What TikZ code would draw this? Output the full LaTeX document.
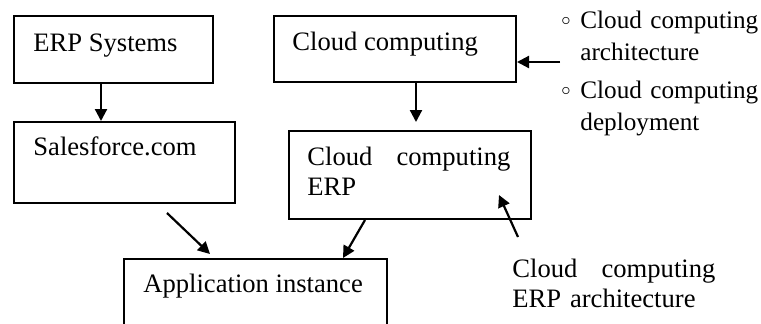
\documentclass[tikz,border=0pt]{standalone}
\usepackage{fontspec}
\setmainfont{Liberation Serif}
\usetikzlibrary{arrows.meta,calc}
\begin{document}
\begin{tikzpicture}[x=0.5pt,y=-0.5pt,
  box/.style={draw,line width=1pt,anchor=north west,inner sep=0pt},
  txt/.style={anchor=base west,inner sep=0pt,font=\fontsize{13.3}{15}\selectfont},
  jtxt/.style={anchor=base west,inner sep=0pt,align=left,text width=101.5pt,font=\fontsize{13.3}{15}\selectfont},
  btxt/.style={anchor=base west,inner sep=0pt,align=left,text width=90pt,font=\fontsize{12.6}{16}\selectfont},
  bmark/.style={inner sep=0pt,font=\fontsize{9}{9}\selectfont},
  arr/.style={line width=1.1pt,-{Triangle[length=6pt,width=6pt]}}]
\useasboundingbox (0,0) rectangle (761,323);
\clip (0,0) rectangle (761,323);
% boxes
\node[box,minimum width=99.5pt,minimum height=33.5pt] (erp) at (13,15) {};
\node[box,minimum width=121pt,minimum height=33pt] (cc) at (273,15) {};
\node[box,minimum width=110.5pt,minimum height=40.5pt] (sf) at (13,121) {};
\node[box,minimum width=121pt,minimum height=44pt] (ce) at (288,130) {};
\node[box,minimum width=131.5pt,minimum height=50pt] (app) at (123,258) {};
% box texts
\node[txt] (erpt) at (33,51) {ERP Systems};
\node[txt] (cct) at (292,50) {Cloud computing};
\node[txt] (sft) at (33,155) {Salesforce.com};
\node[jtxt] (cet) at (307,165) {Cloud\hfill computing\\ERP};
\node[txt] (appt) at (143,292) {Application instance};
% bullet list
\node[bmark] (m1) at (566,21) {$\circ$};
\node[btxt] (b1) at (580,28) {Cloud computing\\architecture};
\node[bmark] (m2) at (566,91) {$\circ$};
\node[btxt] (b2) at (580,98) {Cloud computing\\deployment};
% label
\node[jtxt] (lab) at (512,277) {Cloud\hfill computing\\ERP architecture};
% arrows
\draw[arr] ($(erp.south west)+(88,0)$) -- ($(sf.north west)+(88,0)$);
\draw[arr] ($(cc.south west)+(143,0)$) -- ($(ce.north west)+(128,-8)$);
\coordinate (bl) at (560,62);
\draw[arr] (bl) -- (bl -| cc.east);
\draw[arr] ($(sf.south west)+(154,9)$) -- ($(app.north west)+(87,-4)$);
\draw[arr] ($(ce.south west)+(77,0)$) -- ($(app.north west)+(220,0)$);
\coordinate (la) at (518,237);
\draw[arr] (la) -- ($(ce.south east)+(-33,-25)$);
\end{tikzpicture}
\end{document}
